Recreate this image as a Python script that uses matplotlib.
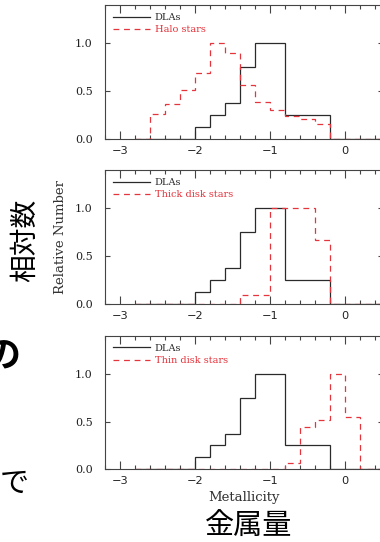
import numpy as np
import matplotlib
matplotlib.use('Agg')
import matplotlib.pyplot as plt
from matplotlib.lines import Line2D
from matplotlib.ticker import MultipleLocator

plt.rcParams['lines.scale_dashes'] = False

# metallicity bins, width 0.2 dex
edges = np.round(np.arange(-2.8, 0.61, 0.2), 1)

dla = [0, 0, 0, 0, 0.125, 0.25, 0.375, 0.75, 1.0, 1.0, 0.25, 0.25, 0.25,
       0, 0, 0, 0]
halo = [0, 0.26, 0.365, 0.51, 0.69, 1.0, 0.90, 0.565, 0.39, 0.305, 0.243,
        0.208, 0.156, 0, 0, 0, 0]
thick = [0, 0, 0, 0, 0, 0, 0, 0.094, 0.094, 1.0, 1.0, 1.0, 0.67,
         0, 0, 0, 0]
thin = [0, 0, 0, 0, 0, 0, 0, 0, 0, 0, 0.0625, 0.444, 0.52, 1.0, 0.55,
        0, 0]

stars = [halo, thick, thin]
star_names = ['Halo stars', 'Thick disk stars', 'Thin disk stars']

BLK = '#2a2a2a'
RED = '#e4343c'
DASH = (0, (4.2, 3.4))
SERIF = 'DejaVu Serif'
JP = ['Noto Sans CJK JP', 'DejaVu Sans']

W, H = 380, 542
fig = plt.figure(figsize=(W / 100, H / 100), dpi=100)

# panel tops / bottoms in pixels
panels = [(5, 139.3), (170, 304), (335.7, 469.3)]
left, right = 105, 382.5

for (top, bot), vals, name in zip(panels, stars, star_names):
    ax = fig.add_axes([left / W, 1 - bot / H, (right - left) / W, (bot - top) / H])
    ax.stairs(dla, edges, color=BLK, lw=0.9, zorder=3)
    ax.stairs(vals, edges, color=RED, lw=0.9, linestyle=DASH, zorder=4)
    ax.set_xlim(-3.2, 0.5)
    ax.set_ylim(0, 1.4)

    ax.xaxis.set_major_locator(MultipleLocator(1))
    ax.xaxis.set_minor_locator(MultipleLocator(0.2))
    ax.yaxis.set_major_locator(MultipleLocator(0.5))
    ax.yaxis.set_major_formatter(matplotlib.ticker.FormatStrFormatter('%.1f'))
    ax.tick_params(which='both', direction='in', top=True, right=True,
                   color='#444', width=0.8)
    ax.tick_params(axis='x', which='major', length=5.8, pad=5, labelsize=8.2,
                   labelcolor='#222')
    ax.tick_params(axis='x', which='minor', length=2.9)
    ax.tick_params(axis='y', which='major', length=3.6, pad=9, labelsize=8,
                   labelcolor='#222')
    for lab in ax.get_yticklabels():
        lab.set_fontfamily(SERIF)
    for sp in ax.spines.values():
        sp.set_color('#444')
        sp.set_linewidth(0.8)

    handles = [Line2D([], [], color=BLK, lw=0.9),
               Line2D([], [], color=RED, lw=0.9, linestyle=DASH)]
    ax.legend(handles, ['DLAs', name], loc='upper left',
              bbox_to_anchor=(0.028, 0.94), borderaxespad=0, borderpad=0,
              frameon=False, handlelength=3.8, handletextpad=0.5,
              labelspacing=0.35, labelcolor=[BLK, RED],
              prop={'family': SERIF, 'size': 7})

fig.text(61 / W, 1 - 237 / H, 'Relative Number', rotation=90, ha='center',
         va='center', family=SERIF, fontsize=9.5, color='#333')
fig.text(244 / W, 1 - 498 / H, 'Metallicity', ha='center', va='center',
         family=SERIF, fontsize=9.5, color='#333')

fig.text(249 / W, 1 - 527 / H, '金属量', ha='center', va='center',
         family=JP, fontsize=21, color='black')
fig.text(25 / W, 1 - 240 / H, '相対数', rotation=90, ha='center',
         va='center', family=JP, fontsize=20, color='black')
# fragments of the surrounding slide text at the left edge
fig.text(3 / W, 1 - 357 / H, 'の', ha='center', va='center', family=JP,
         fontsize=26, fontweight='bold', color='black')
fig.text(14 / W, 1 - 484 / H, 'で', ha='center', va='center', family=JP,
         fontsize=21, color='black')

fig.savefig('out.png', dpi=100)
